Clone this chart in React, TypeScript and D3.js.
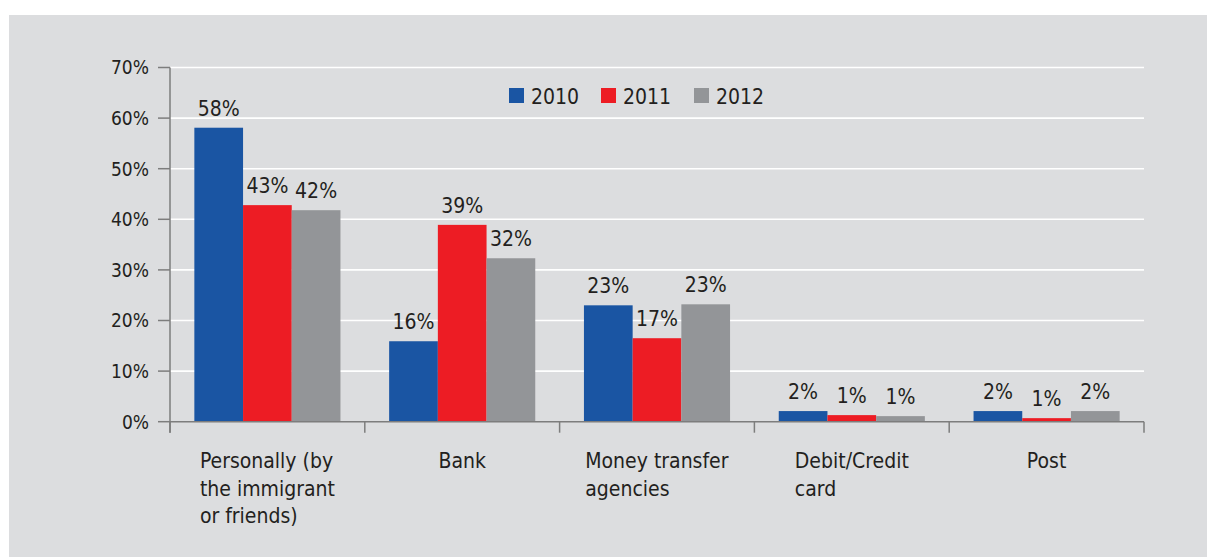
import * as d3 from "d3";
import { useEffect, useRef } from "react";

const categories = [
  ["Personally (by", "the immigrant", "or friends)"],
  ["Bank"],
  ["Money transfer", "agencies"],
  ["Debit/Credit", "card"],
  ["Post"],
];
const years = ["2010", "2011", "2012"];
const values2010 = [58.1, 15.9, 23.0, 2.1, 2.1];
const values2011 = [42.8, 38.9, 16.5, 1.3, 0.7];
const values2012 = [41.8, 32.3, 23.2, 1.1, 2.1];
const yTicks = [0, 10, 20, 30, 40, 50, 60, 70];
const colors = ["#1a55a3", "#ed1c24", "#939598"];

const FONT = "'DejaVu Sans Condensed', 'Liberation Sans Narrow', sans-serif";

const App: React.FC = () => {
  const ref = useRef<SVGSVGElement | null>(null);

  useEffect(() => {
    if (!ref.current) return;
    const svg = d3.select(ref.current);
    svg.selectAll("*").remove();

    const series = [values2010, values2011, values2012];
    const keys = categories.map((c) => c.join(" "));
    const margin = { left: 170, right: 1144, top: 67.5, bottom: 421.7 };

    svg.append("rect").attr("x", 9).attr("y", 15).attr("width", 1198).attr("height", 542).attr("fill", "#dcdddf");

    const x0 = d3.scaleBand<string>().domain(keys).range([margin.left, margin.right]).padding(0);
    const x1 = d3.scaleBand<string>().domain(years).range([0, x0.bandwidth()]).paddingInner(0).paddingOuter(0.5);
    const y = d3.scaleLinear().domain([0, 70]).range([margin.bottom, margin.top]);

    // grid
    svg
      .append("g")
      .selectAll("line")
      .data(yTicks.slice(1))
      .join("line")
      .attr("x1", margin.left)
      .attr("x2", margin.right)
      .attr("y1", (d) => y(d))
      .attr("y2", (d) => y(d))
      .attr("stroke", "#ffffff")
      .attr("stroke-width", 1.6);

    // bars
    const groups = svg
      .append("g")
      .selectAll("g")
      .data(keys)
      .join("g")
      .attr("transform", (d) => `translate(${x0(d)},0)`);

    groups
      .selectAll("rect")
      .data((_, i) => years.map((yr, j) => ({ yr, v: series[j][i], j })))
      .join("rect")
      .attr("x", (d) => x1(d.yr) ?? 0)
      .attr("width", x1.bandwidth())
      .attr("y", (d) => y(d.v))
      .attr("height", (d) => y(0) - y(d.v))
      .attr("fill", (d) => colors[d.j]);

    groups
      .selectAll("text")
      .data((_, i) => years.map((yr, j) => ({ yr, v: series[j][i] })))
      .join("text")
      .attr("x", (d) => (x1(d.yr) ?? 0) + x1.bandwidth() / 2)
      .attr("y", (d) => y(d.v) - 12)
      .attr("text-anchor", "middle")
      .attr("font-family", FONT)
      .attr("font-size", 21)
      .attr("fill", "#231f20")
      .text((d) => `${Math.round(d.v)}%`);

    // y axis
    const axisColor = "#7d7d7d";
    svg
      .append("line")
      .attr("x1", margin.left)
      .attr("x2", margin.left)
      .attr("y1", y(70))
      .attr("y2", y(0) + 11)
      .attr("stroke", axisColor)
      .attr("stroke-width", 1.5);
    svg
      .append("g")
      .selectAll("line")
      .data(yTicks)
      .join("line")
      .attr("x1", margin.left - 12)
      .attr("x2", margin.left)
      .attr("y1", (d) => y(d))
      .attr("y2", (d) => y(d))
      .attr("stroke", axisColor)
      .attr("stroke-width", 1.5);
    svg
      .append("g")
      .selectAll("text")
      .data(yTicks)
      .join("text")
      .attr("x", margin.left - 21)
      .attr("y", (d) => y(d))
      .attr("dy", "0.36em")
      .attr("text-anchor", "end")
      .attr("font-family", FONT)
      .attr("font-size", 19)
      .attr("fill", "#231f20")
      .text((d) => `${d}%`);

    // x axis
    svg
      .append("line")
      .attr("x1", margin.left)
      .attr("x2", margin.right)
      .attr("y1", y(0))
      .attr("y2", y(0))
      .attr("stroke", axisColor)
      .attr("stroke-width", 1.5);
    const bounds = keys.map((k) => x0(k) ?? 0).concat([margin.right]);
    svg
      .append("g")
      .selectAll("line")
      .data(bounds)
      .join("line")
      .attr("x1", (d) => d)
      .attr("x2", (d) => d)
      .attr("y1", y(0))
      .attr("y2", y(0) + 11)
      .attr("stroke", axisColor)
      .attr("stroke-width", 1.5);

    // category labels: left-aligned blocks centred on each band
    categories.forEach((lines, i) => {
      const t = svg
        .append("text")
        .attr("font-family", FONT)
        .attr("font-size", 21)
        .attr("fill", "#231f20");
      lines.forEach((ln, k) => {
        t.append("tspan").attr("x", 0).attr("y", 468 + k * 27.5).text(ln);
      });
      const w = (t.node() as SVGTextElement).getBBox().width;
      const cx = (x0(keys[i]) ?? 0) + x0.bandwidth() / 2;
      t.attr("transform", `translate(${cx - w / 2},0)`);
    });

    // legend
    const legendX = [509, 601, 694];
    const legend = svg
      .append("g")
      .selectAll("g")
      .data(years)
      .join("g")
      .attr("transform", (_, i) => `translate(${legendX[i]},88)`);
    legend.append("rect").attr("width", 15).attr("height", 15).attr("fill", (_, i) => colors[i]);
    legend
      .append("text")
      .attr("x", 22)
      .attr("y", 16)
      .attr("font-family", FONT)
      .attr("font-size", 21)
      .attr("fill", "#231f20")
      .text((d) => d);
  }, []);

  return (
    <svg
      ref={ref}
      width={1207}
      height={558}
      style={{ position: "absolute", left: 0, top: 0, background: "#ffffff" }}
    />
  );
};

export default App;
